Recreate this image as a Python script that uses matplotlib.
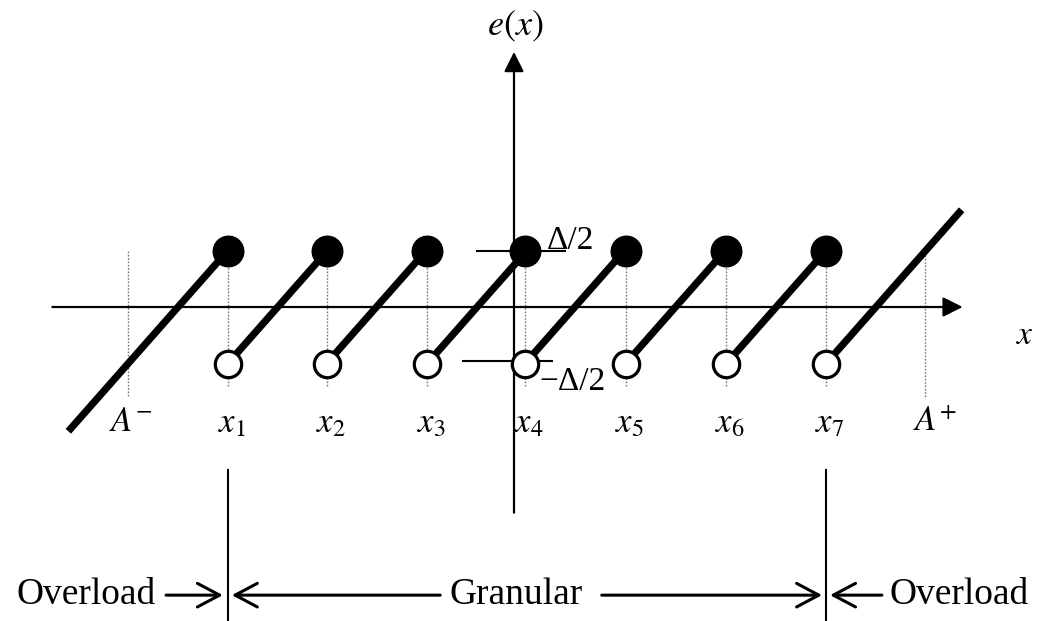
import matplotlib
matplotlib.use("Agg")
import matplotlib.pyplot as plt
import numpy as np

plt.rcParams["mathtext.fontset"] = "stix"
plt.rcParams["font.family"] = ["Liberation Serif", "DejaVu Serif"]

# Decision points x1..x7 (in units of the step size) and the overload limits
breakpoints = [-2.87, -1.88, -0.87, 0.11, 1.12, 2.13, 3.13]
point_labels = ["$x_1$", "$x_2$", "$x_3$", "$x_4$", "$x_5$", "$x_6$", "$x_7$"]
a_minus, a_plus = -3.87, 4.12
half_step = 0.5
input_min, input_max = -4.47, 4.49

W, H, DPI = 1041, 621, 100
fig = plt.figure(figsize=(W / DPI, H / DPI), dpi=DPI)
ax = fig.add_axes([0, 0, 1, 1])
ax.set_xlim(-514 / 99.7, (W - 514) / 99.7)
ax.set_ylim((307 - H) / 113, 307 / 113)
ax.axis("off")

# coordinate axes with filled arrow heads
axis_kw = dict(arrowstyle="-|>,head_length=12,head_width=6", mutation_scale=1,
               shrinkA=0, shrinkB=0, lw=1.6, color="black")
ax.annotate("", xy=(4.50, 0), xytext=(-4.63, 0), arrowprops=axis_kw, zorder=2)
ax.annotate("", xy=(0, 2.257), xytext=(0, -1.82), arrowprops=axis_kw, zorder=2)

ax.text(0.01, 2.48, "$e(x)$", fontsize=26, ha="center", va="center")
ax.text(5.12, -0.25, "$x$", fontsize=24, ha="center", va="center")

# dotted guides at every decision point and at the overload limits
for xk in breakpoints:
    ax.plot([xk, xk], [half_step, -0.71], ls=(0, (1.2, 1.2)), lw=1.0,
            color="#777777", zorder=1)
ax.plot([a_minus, a_minus], [0.5, -0.80], ls=(0, (1.2, 1.2)), lw=1.0,
        color="#777777", zorder=1)
ax.plot([a_plus, a_plus], [0.46, -0.80], ls=(0, (1.2, 1.2)), lw=1.0,
        color="#777777", zorder=1)

# quantization error: slope-one sawtooth
seg_kw = dict(color="black", lw=5.2, solid_capstyle="butt", zorder=3)
ax.plot([input_min, breakpoints[0]],
        [input_min - breakpoints[0] + half_step, half_step], **seg_kw)
for left, right in zip(breakpoints[:-1], breakpoints[1:]):
    ax.plot([left, right], [-half_step, -half_step + (right - left)], **seg_kw)
ax.plot([breakpoints[-1], input_max],
        [-half_step, input_max - breakpoints[-1] - half_step], **seg_kw)

ax.plot(breakpoints, [half_step] * len(breakpoints), "o", ms=22,
        color="black", zorder=4)
ax.plot(breakpoints, [-half_step] * len(breakpoints), "o", ms=19,
        mfc="white", mec="black", mew=2.3, zorder=4)

# ticks for +/- half step on the vertical axis
ax.plot([-0.37, 0.51], [half_step, half_step], color="black", lw=1.5, zorder=2)
ax.plot([-0.51, 0.38], [-half_step + 0.02, -half_step + 0.02], color="black",
        lw=1.5, zorder=2)
ax.text(0.57, 0.59, "Δ/2", fontsize=24, ha="center", va="center")
ax.text(0.59, -0.66, "−Δ/2", fontsize=24, ha="center", va="center")

# labels under the horizontal axis
for xk, lab in zip(breakpoints, point_labels):
    ax.text(xk + 0.04, -1.11, lab, fontsize=25, ha="center", va="baseline")
ax.text(a_minus + 0.03, -1.10, "$A^{-}$", fontsize=25, ha="center", va="baseline")
ax.text(a_plus + 0.1, -1.10, "$A^{+}$", fontsize=25, ha="center", va="baseline")

# region boundaries and region labels
for xb in (breakpoints[0], breakpoints[-1]):
    ax.plot([xb, xb], [-1.44, -2.8], color="black", lw=1.5, zorder=2)

y_ann = -2.55
arr_kw = dict(arrowstyle="->,head_length=16,head_width=8.5", mutation_scale=1,
              shrinkA=0, shrinkB=0, lw=2.2, color="black")
ax.annotate("", xy=(breakpoints[0] - 0.05, y_ann), xytext=(-3.49, y_ann),
            arrowprops=arr_kw)
ax.annotate("", xy=(breakpoints[0] + 0.04, y_ann), xytext=(-0.74, y_ann),
            arrowprops=arr_kw)
ax.annotate("", xy=(breakpoints[-1] - 0.04, y_ann), xytext=(0.88, y_ann),
            arrowprops=arr_kw)
ax.annotate("", xy=(breakpoints[-1] + 0.04, y_ann), xytext=(3.69, y_ann),
            arrowprops=arr_kw)

ax.text(-4.985, y_ann, "Overload", fontsize=27, ha="left", va="center")
ax.text(0.02, y_ann, "Granular", fontsize=27, ha="center", va="center")
ax.text(3.77, y_ann, "Overload", fontsize=27, ha="left", va="center")

fig.savefig("out.png", dpi=DPI)
